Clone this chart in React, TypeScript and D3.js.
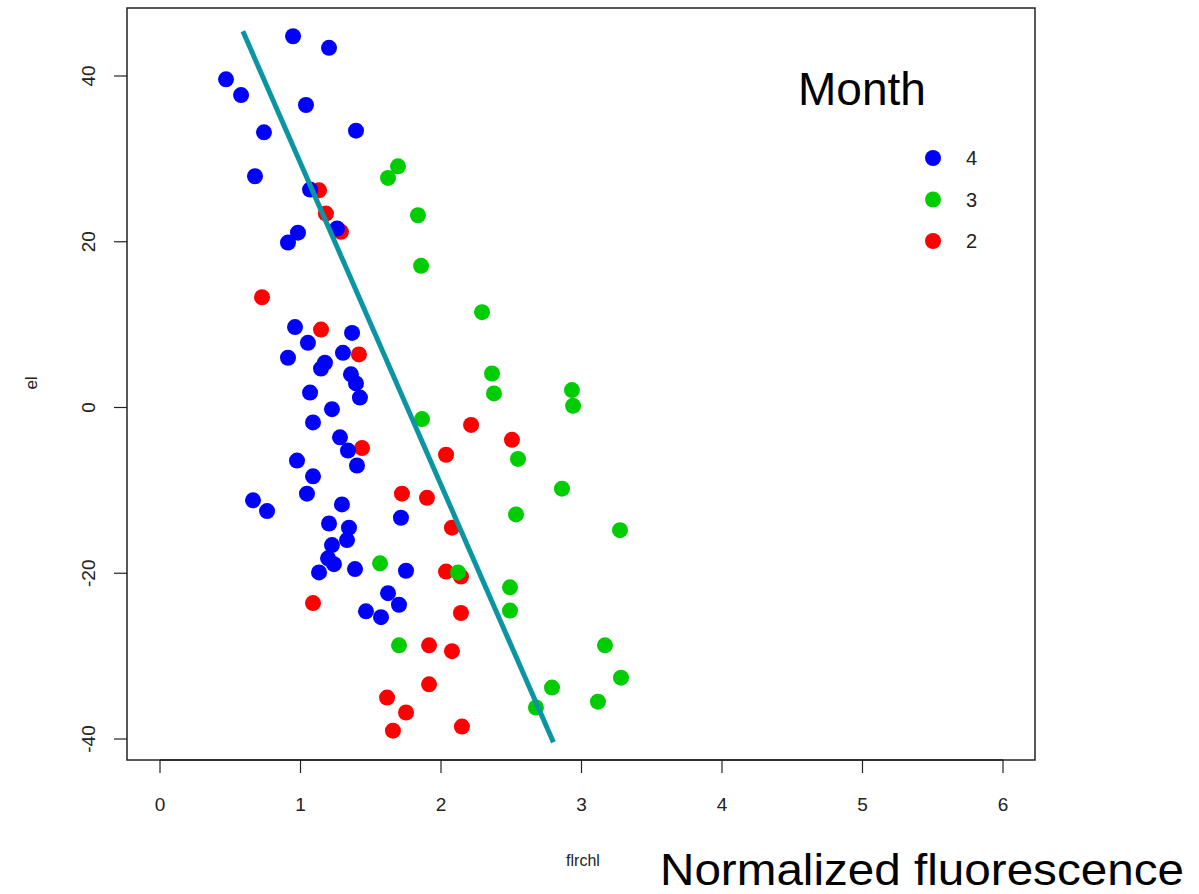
import React from "react";
import * as d3 from "d3";

// month 4 (blue)
const blueX = [0.947, 1.203, 0.47, 0.577, 1.039, 0.74, 1.395, 0.676, 1.068, 1.26, 0.982, 0.911,
  0.961, 1.367, 1.053, 0.911, 1.302, 1.174, 1.146, 1.359, 1.395, 1.423, 1.068, 1.224, 1.089,
  1.281, 1.338, 1.402, 0.975, 1.089, 1.046, 0.662, 0.762, 1.295, 1.715, 1.203, 1.345, 1.331,
  1.224, 1.196, 1.238, 1.132, 1.388, 1.751, 1.623, 1.701, 1.466, 1.573];
const blueY = [44.8, 43.4, 39.6, 37.7, 36.5, 33.2, 33.4, 27.9, 26.3, 21.6, 21.1, 19.9,
  9.7, 9.0, 7.8, 6.0, 6.6, 5.4, 4.7, 4.0, 2.9, 1.2, 1.8, -0.2, -1.8,
  -3.6, -5.2, -7.0, -6.4, -8.3, -10.4, -11.2, -12.5, -11.7, -13.3, -14.0, -14.5, -16.0,
  -16.6, -18.2, -18.9, -19.9, -19.5, -19.7, -22.4, -23.8, -24.6, -25.3];

// month 3 (green)
const greenX = [1.694, 1.623, 1.836, 1.858, 2.292, 2.363, 2.377, 2.932, 2.94, 1.865, 2.548, 2.861,
  2.534, 3.274, 1.566, 2.121, 2.491, 2.491, 1.701, 3.167, 3.281, 2.79, 3.117, 2.676];
const greenY = [29.1, 27.7, 23.2, 17.1, 11.5, 4.1, 1.7, 2.1, 0.2, -1.4, -6.2, -9.8,
  -12.9, -14.8, -18.8, -19.9, -21.7, -24.5, -28.7, -28.7, -32.6, -33.8, -35.5, -36.2];

// month 2 (red)
const redX = [1.132, 1.181, 1.288, 0.726, 1.146, 1.416, 2.214, 2.505, 2.036, 1.438, 1.722, 1.9,
  2.078, 2.036, 2.142, 1.089, 2.142, 1.915, 2.078, 1.915, 1.616, 1.751, 1.658, 2.149];
const redY = [26.2, 23.4, 21.2, 13.3, 9.4, 6.4, -2.1, -3.9, -5.7, -4.9, -10.4, -10.9,
  -14.5, -19.8, -20.4, -23.6, -24.8, -28.7, -29.4, -33.4, -35.0, -36.8, -39.0, -38.5];

// fitted line end points
const fitX = [0.59, 2.8];
const fitY = [45.4, -40.4];

const xTicks = [0, 1, 2, 3, 4, 5, 6];
const yTicks = [-40, -20, 0, 20, 40];
const legendLabels = ["4", "3", "2"];

const colors: Record<string, string> = { "4": "#0000ff", "3": "#00cd00", "2": "#ff0000" };

const W = 1199, H = 894;
const box = { left: 127, right: 1035, top: 8, bottom: 760 };
const font = "'Liberation Sans', Arial, sans-serif";

export default function App() {
  const x = d3.scaleLinear().domain([0, 6]).range([160, 1003]);
  const y = d3.scaleLinear().domain([-40, 40]).range([739, 76]);
  const line = d3.line<[number, number]>().x(d => x(d[0])).y(d => y(d[1]));

  const series = [
    { key: "2", xs: redX, ys: redY },
    { key: "4", xs: blueX, ys: blueY },
    { key: "3", xs: greenX, ys: greenY },
  ];

  return (
    <svg width={W} height={H} style={{ position: "absolute", left: 0, top: 0, background: "#fff" }}
      fontFamily={font}>
      <rect x={0} y={0} width={W} height={H} fill="#fff" />
      {series.map(s => (
        <g key={s.key} fill={colors[s.key]}>
          {s.xs.map((v, i) => (
            <circle key={i} cx={x(v)} cy={y(s.ys[i])} r={8} />
          ))}
        </g>
      ))}
      <path d={line(fitX.map((v, i) => [v, fitY[i]] as [number, number])) || ""}
        stroke="#0b95a3" strokeWidth={5} fill="none" />
      <rect x={box.left} y={box.top} width={box.right - box.left} height={box.bottom - box.top}
        fill="none" stroke="#222" strokeWidth={1.5} />

      {/* x axis */}
      <line x1={x(0)} x2={x(6)} y1={box.bottom} y2={box.bottom} stroke="#222" strokeWidth={1.5} />
      {xTicks.map(t => (
        <g key={t}>
          <line x1={x(t)} x2={x(t)} y1={box.bottom} y2={box.bottom + 13} stroke="#222" strokeWidth={1.2} />
          <text x={x(t)} y={811} textAnchor="middle" fontSize={19} fill="#222">{t}</text>
        </g>
      ))}
      {/* y axis */}
      {yTicks.map(t => (
        <g key={t}>
          <line x1={box.left - 13} x2={box.left} y1={y(t)} y2={y(t)} stroke="#222" strokeWidth={1.2} />
          <text transform={`translate(95,${y(t)}) rotate(-90)`} textAnchor="middle" fontSize={19}
            fill="#222">{t}</text>
        </g>
      ))}
      <text transform="translate(37,383) rotate(-90)" textAnchor="middle" fontSize={17} fill="#222">el</text>
      <text x={583} y={866} textAnchor="middle" fontSize={16} fill="#222">flrchl</text>

      {/* legend */}
      <text x={798} y={105} fontSize={46} fill="#000">Month</text>
      {legendLabels.map((l, i) => (
        <g key={l}>
          <circle cx={933} cy={158 + i * 41.5} r={8} fill={colors[l]} />
          <text x={966} y={165 + i * 41.5} fontSize={20} fill="#222">{l}</text>
        </g>
      ))}
      <text x={660} y={885} fontSize={45} fill="#000" textLength={524} lengthAdjust="spacingAndGlyphs">
        Normalized fluorescence
      </text>
    </svg>
  );
}
